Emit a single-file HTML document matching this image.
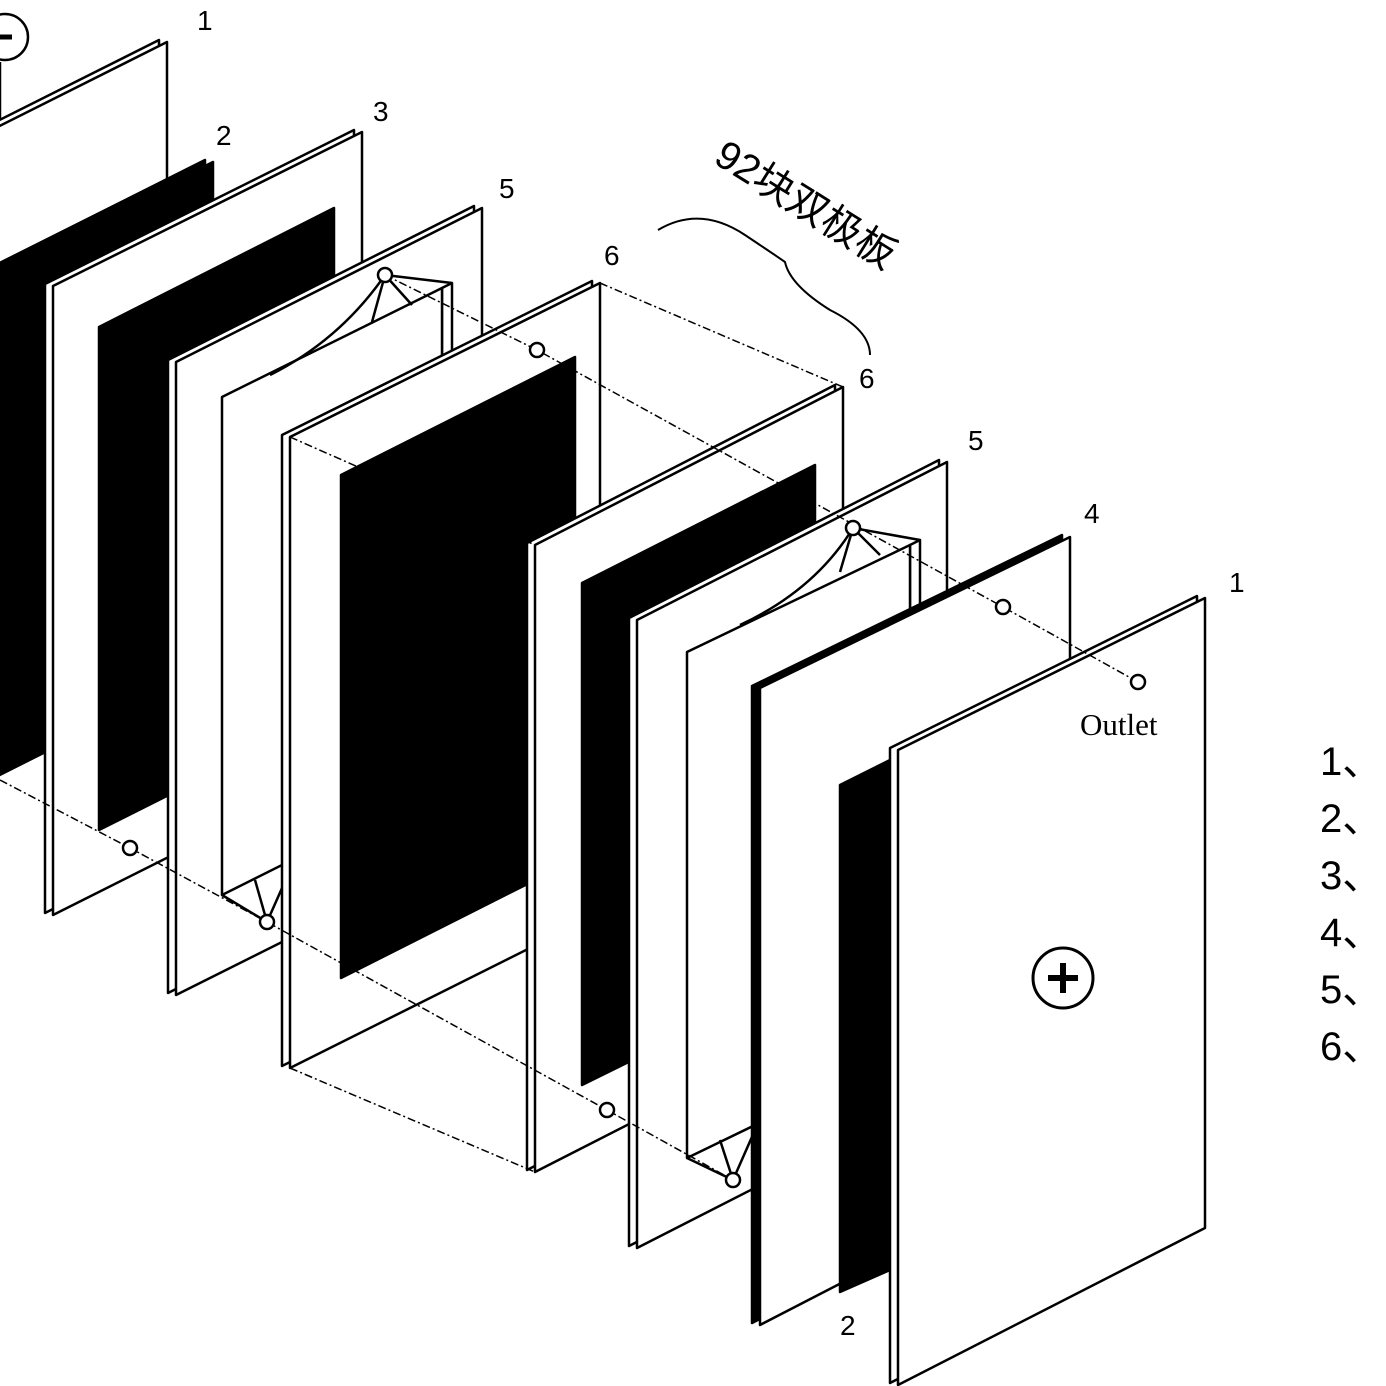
<!DOCTYPE html>
<html><head><meta charset="utf-8"><style>
html,body{margin:0;padding:0;background:#fff;width:1386px;height:1386px;overflow:hidden}
svg{display:block}
text{font-family:"Liberation Sans","Noto Sans CJK SC",sans-serif;fill:#000}
</style></head><body>
<svg width="1386" height="1386" viewBox="0 0 1386 1386" xmlns="http://www.w3.org/2000/svg">
<g stroke="#000" stroke-width="2.5" stroke-linejoin="round" fill="#fff">
<!-- Plate 1 back -->
<polygon points="-208,224 159,40 159,680 -208,864"/>
<polygon points="-200,226 167,42 167,682 -200,866"/>
<circle cx="5" cy="37" r="23" fill="#fff"/>
<line x1="-5" y1="37" x2="12" y2="37" stroke-width="5"/>
<line x1="0" y1="62" x2="0" y2="120"/>
<!-- Plate 2 black back -->
<polygon points="-158,342 205,160 205,666 -158,848" fill="#000"/>
<polygon points="-150,344 213,162 213,668 -150,850" fill="#000"/>
<!-- Plate 3 -->
<polygon points="45,284 354,130 354,758 45,913"/>
<polygon points="53,286 362,132 362,760 53,915"/>
<polygon points="99,327 334,208 334,712 99,830" fill="#000"/>
<!-- Plate 5 first -->
<polygon points="168,360 474,206 474,840 168,993"/>
<polygon points="176,362 482,208 482,842 176,995"/>
<polygon points="442,288 452,283 452,780 442,785"/>
<polygon points="222,397 442,288 442,785 222,895"/>
<path d="M385,275 Q340,340 270,375" fill="none"/>
<polyline points="385,275 372,322" fill="none"/>
<polyline points="385,275 412,305" fill="none"/>
<polyline points="385,275 452,283" fill="none"/>
<polyline points="222,895 267,922 290,870" fill="none"/>
<polyline points="267,922 255,880" fill="none"/>
<!-- Plate 6 first -->
<polygon points="282,435 592,281 592,911 282,1066"/>
<polygon points="290,437 600,283 600,913 290,1068"/>
<polygon points="341,475 575,357 575,860 341,978" fill="#000"/>
<!-- Plate 6 second -->
<polygon points="527,543 835,385 835,1013 527,1170"/>
<polygon points="535,545 843,387 843,1015 535,1172"/>
<polygon points="582,583 815,465 815,970 582,1085" fill="#000"/>
<!-- Plate 5 second -->
<polygon points="629,618 939,460 939,1088 629,1246"/>
<polygon points="637,620 947,462 947,1090 637,1248"/>
<polygon points="910,545 920,540 920,1045 910,1050"/>
<polygon points="687,652 910,545 910,1050 687,1158"/>
<path d="M853,528 Q815,590 740,625" fill="none"/>
<polyline points="853,528 840,572" fill="none"/>
<polyline points="853,528 880,555" fill="none"/>
<polyline points="853,528 920,540" fill="none"/>
<polyline points="687,1158 733,1180 755,1130" fill="none"/>
<polyline points="733,1180 720,1140" fill="none"/>
<!-- Plate 4 -->
<polygon points="752,686 1062,535 1062,1163 752,1323" fill="#000"/>
<polygon points="760,688 1070,537 1070,1165 760,1325"/>
<!-- Plate 2 front black -->
<polygon points="840,785 890,760 890,1270 840,1292" fill="#000"/>
<!-- Plate 1 front -->
<polygon points="890,748 1197,596 1197,1226 890,1383"/>
<polygon points="898,750 1205,598 1205,1228 898,1385"/>
<circle cx="1063" cy="978" r="30" stroke-width="3"/>
<line x1="1048" y1="978" x2="1078" y2="978" stroke-width="6"/>
<line x1="1063" y1="963" x2="1063" y2="993" stroke-width="6"/>
<!-- dashed lines on top -->
<g fill="none" stroke-width="1.5" stroke-dasharray="8,3,2,3">
<polyline points="385,275 537,350 1003,607 1138,682"/>
<polyline points="0,780 130,848 267,922 607,1110 733,1180"/>
<polyline points="600,283 843,387"/>
<polyline points="290,437 535,545"/>
<polyline points="290,1068 535,1172"/>
</g>
<circle cx="130" cy="848" r="7"/>
<circle cx="267" cy="922" r="7"/>
<circle cx="385" cy="275" r="7"/>
<circle cx="537" cy="350" r="7"/>
<circle cx="607" cy="1110" r="7"/>
<circle cx="853" cy="528" r="7"/>
<circle cx="733" cy="1180" r="7"/>
<circle cx="1003" cy="607" r="7"/>
<circle cx="1138" cy="682" r="7"/>
<!-- brace -->
<path d="M658,230 Q700,205 745,235 Q775,255 785,262 Q790,285 830,310 Q870,330 870,355" fill="none" stroke-width="2"/>
</g>
<g font-size="28">
<text x="197" y="30">1</text>
<text x="216" y="145">2</text>
<text x="373" y="121">3</text>
<text x="499" y="198">5</text>
<text x="604" y="265">6</text>
<text x="859" y="388">6</text>
<text x="968" y="450">5</text>
<text x="1084" y="523">4</text>
<text x="1229" y="592">1</text>
<text x="840" y="1335">2</text>
</g>
<text x="1080" y="735" font-size="31" style="font-family:'Liberation Serif',serif">Outlet</text>
<text x="712" y="162" font-size="40" transform="rotate(32 712 162)">92块双极板</text>
<g font-size="40">
<text x="1320" y="775">1、</text>
<text x="1320" y="832">2、</text>
<text x="1320" y="889">3、</text>
<text x="1320" y="946">4、</text>
<text x="1320" y="1003">5、</text>
<text x="1320" y="1060">6、</text>
</g>
</svg>
</body></html>
